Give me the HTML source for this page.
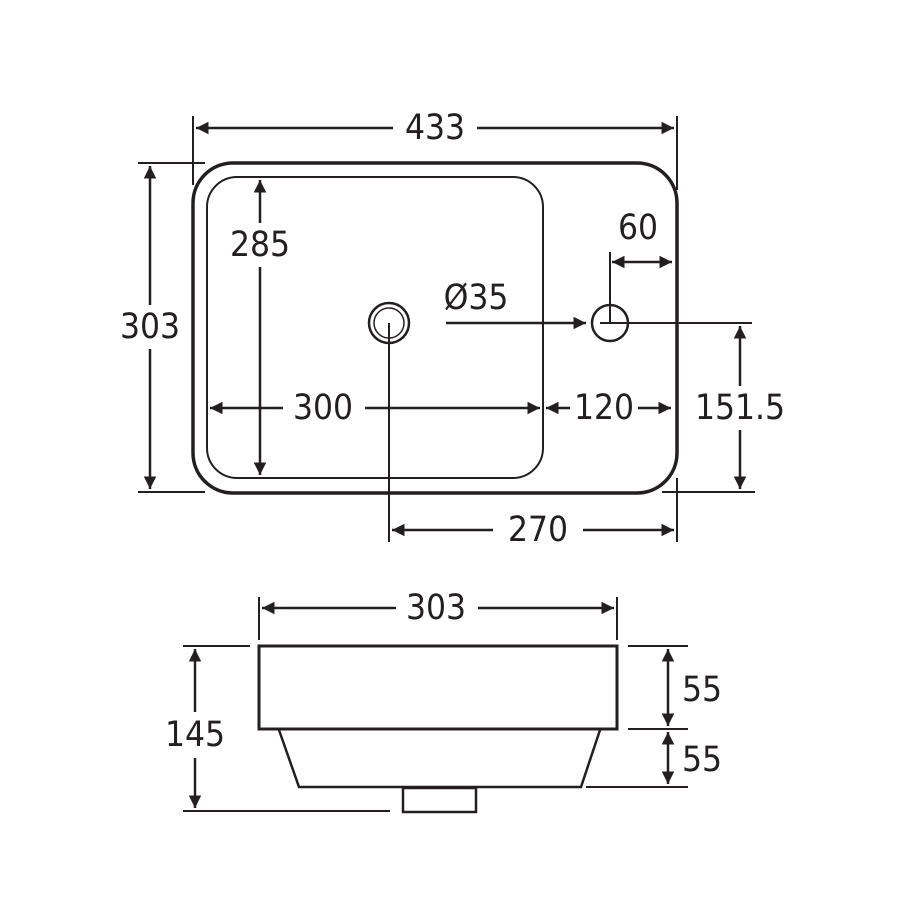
<!DOCTYPE html>
<html><head><style>html,body{margin:0;padding:0;background:#fff}svg{display:block}text{font-family:"DejaVu Sans Condensed","Liberation Sans Narrow","Liberation Sans",sans-serif;font-size:35px;fill:#231f20;text-anchor:middle;dominant-baseline:central}</style></head>
<body>
<svg width="900" height="900" viewBox="0 0 900 900" xmlns="http://www.w3.org/2000/svg">
<defs>
<marker id="a" viewBox="0 0 10 10" refX="10" refY="5" markerWidth="5.5" markerHeight="5" orient="auto-start-reverse"><path d="M0,0L10,5L0,10z" fill="#231f20"/></marker>
</defs>
<g stroke="#231f20" fill="none">
<rect x="193" y="163" width="484" height="330" rx="40" stroke-width="3.5"/>
<rect x="207" y="177" width="336" height="301" rx="30" stroke-width="2"/>
<circle cx="389" cy="323" r="20" stroke-width="2.5"/>
<circle cx="389" cy="323" r="15" stroke-width="1.5"/>
<circle cx="610" cy="323" r="18" stroke-width="2.5"/>
<g stroke-width="2">
<line x1="193" y1="116" x2="193" y2="185"/><line x1="677" y1="116" x2="677" y2="190"/>
<line x1="138" y1="163" x2="205" y2="163"/><line x1="138" y1="492" x2="205" y2="492"/>
<line x1="662" y1="492" x2="755" y2="492"/><line x1="677" y1="478" x2="677" y2="542"/>
<line x1="389" y1="323" x2="389" y2="542"/>
<line x1="610" y1="252" x2="610" y2="323"/>
<line x1="600" y1="323" x2="752" y2="323"/>
</g>
<g stroke-width="2.5" marker-start="url(#a)" marker-end="url(#a)">
<line x1="196" y1="128" x2="674" y2="128"/>
<line x1="150" y1="166" x2="150" y2="489"/>
<line x1="260" y1="180" x2="260" y2="475"/>
<line x1="210" y1="408" x2="540" y2="408"/>
<line x1="546" y1="408" x2="671" y2="408"/>
<line x1="612" y1="262" x2="672" y2="262"/>
<line x1="740" y1="326" x2="740" y2="489"/>
<line x1="392" y1="530" x2="674" y2="530"/>
</g>
<line x1="446" y1="323" x2="586" y2="323" stroke-width="2.5" marker-end="url(#a)"/>
<rect x="259" y="646" width="358" height="83" stroke-width="3"/>
<path d="M279,730 L299,787 L581,787 L600,730" stroke-width="2.5"/>
<rect x="403" y="788" width="73" height="24" stroke-width="2.5"/>
<g stroke-width="2">
<line x1="259" y1="597" x2="259" y2="640"/><line x1="617" y1="597" x2="617" y2="640"/>
<line x1="183" y1="646" x2="250" y2="646"/><line x1="183" y1="811" x2="390" y2="811"/>
<line x1="628" y1="646" x2="688" y2="646"/><line x1="628" y1="729" x2="688" y2="729"/>
<line x1="586" y1="787" x2="688" y2="787"/>
</g>
<g stroke-width="2.5" marker-start="url(#a)" marker-end="url(#a)">
<line x1="262" y1="608" x2="614" y2="608"/>
<line x1="195" y1="649" x2="195" y2="808"/>
<line x1="668" y1="649" x2="668" y2="726"/>
<line x1="668" y1="732" x2="668" y2="784"/>
</g>
</g>
<g>
<rect x="393" y="108" width="84" height="40" fill="#fff"/><text x="435" y="128">433</text>
<rect x="113" y="305" width="76" height="44" fill="#fff"/><text x="150" y="327">303</text>
<rect x="223" y="223" width="74" height="44" fill="#fff"/><text x="260" y="245">285</text>
<rect x="283" y="388" width="82" height="40" fill="#fff"/><text x="323" y="408">300</text>
<rect x="570" y="388" width="68" height="40" fill="#fff"/><text x="604" y="408">120</text>
<text x="638" y="228">60</text>
<text x="476" y="298">Ø35</text>
<rect x="696" y="386" width="88" height="44" fill="#fff"/><text x="740" y="408">151.5</text>
<rect x="493" y="510" width="90" height="40" fill="#fff"/><text x="538" y="530">270</text>
<rect x="396" y="588" width="82" height="40" fill="#fff"/><text x="436" y="608">303</text>
<rect x="158" y="712" width="74" height="46" fill="#fff"/><text x="195" y="735">145</text>
<text x="702" y="690">55</text>
<text x="702" y="760">55</text>
</g>
</svg>
</body></html>
